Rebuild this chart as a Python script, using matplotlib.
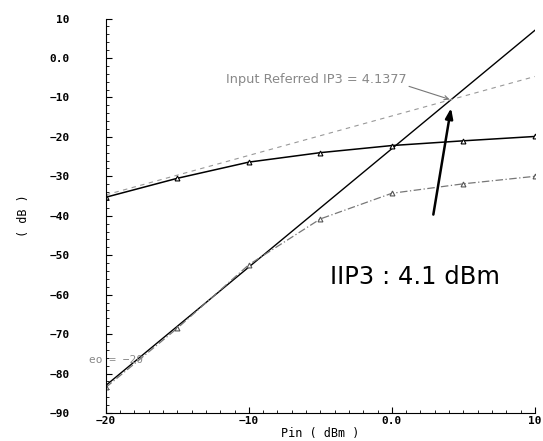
import matplotlib.pyplot as plt
from matplotlib.ticker import MultipleLocator, FixedLocator

# input power sweep (dBm)
pin = [-20, -15, -10, -5, 0, 5, 10]
# measured fundamental output and third-order product (dB)
fund = [-35.3, -30.5, -26.4, -24.0, -22.2, -21.0, -19.9]
im3 = [-83.5, -68.5, -52.4, -40.8, -34.3, -31.9, -30.0]

# extrapolated lines (endpoints at -20 and 10 dBm)
ext_x = [-20, 10]
fund_ext = [-34.7, -4.7]
im3_ext = [-83.0, 7.0]

iip3 = 4.1377
iip3_level = -10.6

y_ticks = [10, 0, -10, -20, -30, -40, -50, -60, -70, -80, -90]
y_labels = ["10", "0.0", "−10", "−20", "−30", "−40", "−50", "−60", "−70", "−80", "−90"]
x_ticks = [-20, -10, 0, 10]
x_labels = ["−20", "−10", "0.0", "10"]

fig = plt.figure(figsize=(5.43, 4.41), dpi=100)
ax = fig.add_axes([0.195, 0.0635, 0.790, 0.8945])

# extrapolations
ax.plot(ext_x, im3_ext, color="black", lw=1.0)
ax.plot(ext_x, fund_ext, color="#999999", lw=0.8, dashes=(4, 4))

# measured curves
ax.plot(pin, fund, color="black", lw=1.1, marker="^", ms=3.5,
        mfc="white", mec="black", mew=0.8)
ax.plot(pin, im3, color="#777777", lw=0.9, dashes=(6, 2, 1, 2), marker="^", ms=3.5,
        mfc="white", mec="#555555", mew=0.8)

# marker label of the intercept
ax.text(1.0, -5.4, "Input Referred IP3 = 4.1377", color="#888888", fontsize=9.3,
        family="DejaVu Sans", va="center", ha="right")
ax.annotate("", xy=(iip3 - 0.1, iip3_level + 0.1), xytext=(1.2, -7.2),
            arrowprops=dict(arrowstyle="->,head_length=0.3,head_width=0.15",
                            color="#777777", lw=0.8, shrinkA=0, shrinkB=0))

ax.annotate("", xy=(iip3, -12.7), xytext=(2.9, -39.7),
            arrowprops=dict(arrowstyle="-|>,head_length=0.6,head_width=0.22",
                            color="black", lw=1.8, shrinkA=0, shrinkB=0))
ax.text(-4.36, -55.4, "IIP3 : 4.1 dBm", fontsize=17.5, family="DejaVu Sans",
        va="center", ha="left")

ax.text(-21.2, -76.5, "eo = −20", color="#888888", fontsize=8,
        family="DejaVu Sans Mono", va="center", ha="left", clip_on=False)

ax.set_xlim(-20, 10)
ax.set_ylim(-90, 10)
ax.yaxis.set_major_locator(FixedLocator(y_ticks))
ax.set_yticklabels(y_labels)
ax.xaxis.set_major_locator(FixedLocator(x_ticks))
ax.set_xticklabels(x_labels)
ax.xaxis.set_minor_locator(MultipleLocator(1))
ax.yaxis.set_minor_locator(MultipleLocator(2))
ax.tick_params(axis="y", which="major", direction="in", length=4, pad=26)
ax.tick_params(axis="x", which="major", direction="in", length=4, pad=2)
ax.tick_params(which="minor", direction="in", length=2)
for lab in ax.get_xticklabels() + ax.get_yticklabels():
    lab.set_family("DejaVu Sans Mono")
    lab.set_fontweight("bold")
    lab.set_fontsize(8)

ax.spines["top"].set_visible(False)
ax.spines["right"].set_visible(False)

ax.set_xlabel("Pin ( dBm )", fontsize=8.5, family="DejaVu Sans Mono", labelpad=1)
ax.set_ylabel("( dB )", fontsize=8.5, family="DejaVu Sans Mono", labelpad=14)

fig.savefig("out.png", dpi=100)
